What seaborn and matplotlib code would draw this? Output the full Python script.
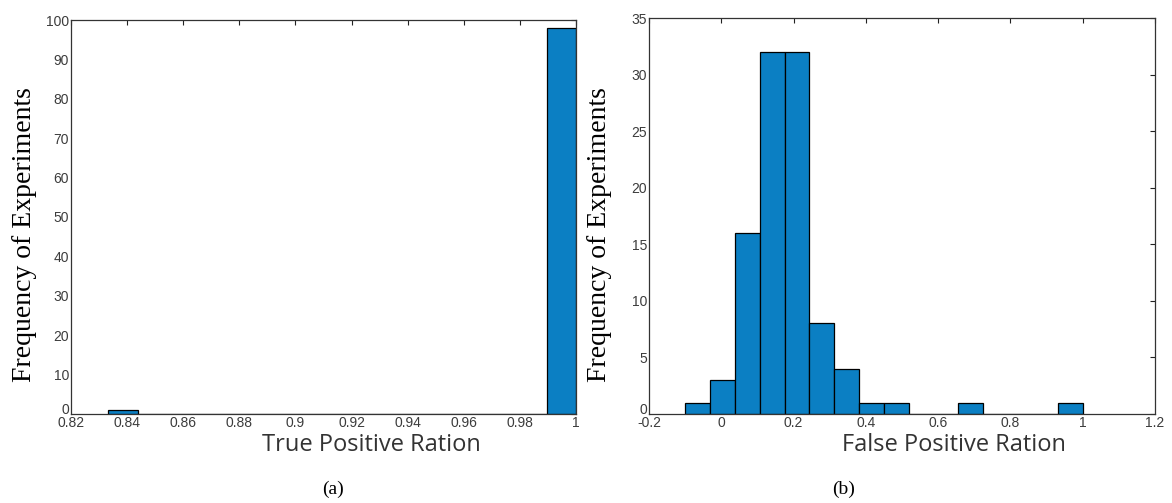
import numpy as np
import pandas as pd
import matplotlib
matplotlib.use("Agg")
import matplotlib.pyplot as plt
import matplotlib.transforms as mtransforms
import seaborn as sns

# Histogram of true positive ratios (16 equal bins between min and max)
tpr_bin_values = [0.8333, 1.0]
tpr_bin_counts = [1, 98]
tpr_range = (0.8333, 1.0)

# Histogram of false positive ratios (16 equal bins between min and max)
fpr_range = (-0.1, 1.0)
fpr_bin_counts = [1, 3, 16, 32, 32, 8, 4, 1, 1, 0, 0, 1, 0, 0, 0, 1]

n_bins = 16

tpr_xticks = [0.82, 0.84, 0.86, 0.88, 0.90, 0.92, 0.94, 0.96, 0.98, 1.0]
tpr_xlabels = ["0.82", "0.84", "0.86", "0.88", "0.9", "0.92", "0.94", "0.96", "0.98", "1"]
tpr_yticks = list(range(0, 101, 10))

fpr_xticks = [-0.2, 0.0, 0.2, 0.4, 0.6, 0.8, 1.0, 1.2]
fpr_xlabels = ["-0.2", "0", "0.2", "0.4", "0.6", "0.8", "1", "1.2"]
fpr_yticks = list(range(0, 36, 5))

sns.set_theme(style="white")
plt.rcParams["font.family"] = ["Liberation Sans", "DejaVu Sans"]

BAR = "#0B7FC3"
TICK_COLOR = "#3c3c3c"

fig = plt.figure(figsize=(11.72, 5.03), dpi=100)
ax1 = fig.add_axes([71 / 1172, 1 - 414 / 503, 505 / 1172, 394 / 503])
ax2 = fig.add_axes([649 / 1172, 1 - 414 / 503, 506 / 1172, 396 / 503])

# True positive panel: the observed values fall into the first and last bin
tpr_df = pd.DataFrame({"ratio": tpr_bin_values, "count": tpr_bin_counts})
sns.histplot(data=tpr_df, x="ratio", weights="count", bins=n_bins,
             binrange=tpr_range, color=BAR, edgecolor="black",
             linewidth=0.9, alpha=1, ax=ax1)

# False positive panel: one value per bin centre, weighted by its count
fpr_edges = np.linspace(fpr_range[0], fpr_range[1], n_bins + 1)
fpr_centres = (fpr_edges[:-1] + fpr_edges[1:]) / 2
fpr_df = pd.DataFrame({"ratio": fpr_centres, "count": fpr_bin_counts})
sns.histplot(data=fpr_df, x="ratio", weights="count", bins=n_bins,
             binrange=fpr_range, color=BAR, edgecolor="black",
             linewidth=0.9, alpha=1, ax=ax2)

panels = [
    (ax1, (0.82, 1.0), (0, 100), tpr_xticks, tpr_xlabels, tpr_yticks),
    (ax2, (-0.2, 1.2), (0, 35), fpr_xticks, fpr_xlabels, fpr_yticks),
]
for ax, xlim, ylim, xt, xl, yt in panels:
    ax.set_xlim(*xlim)
    ax.set_ylim(*ylim)
    ax.set_xticks(xt)
    ax.set_xticklabels(xl)
    ax.set_yticks(yt)
    ax.set_xlabel("")
    ax.set_ylabel("")
    ax.tick_params(direction="in", top=True, right=True, length=3.5,
                   width=0.8, color="#222222", labelsize=10,
                   labelcolor=TICK_COLOR, pad=1.5)
    for s in ax.spines.values():
        s.set_visible(True)
        s.set_color("#333333")
        s.set_linewidth(0.9)
    ax.set_facecolor("white")
    # lift the zero label of the y axis clear of the x tick labels
    zero_label = ax.get_yticklabels()[0]
    zero_label.set_transform(zero_label.get_transform() +
                             mtransforms.ScaledTranslation(0, 4 / 72, fig.dpi_scale_trans))

serif = ["Liberation Serif", "DejaVu Serif"]
label_sans = ["Open Sans", "DejaVu Sans"]

fig.text(25 / 1172, 1 - 235 / 503, "Frequency of Experiments", rotation=90,
         ha="center", va="center", fontsize=20, family=serif, color="black")
fig.text(600 / 1172, 1 - 235 / 503, "Frequency of Experiments", rotation=90,
         ha="center", va="center", fontsize=20, family=serif, color="black")

fig.text(371 / 1172, 1 - 445 / 503, "True Positive Ration", ha="center",
         va="center", fontsize=17, family=label_sans, color="#333333")
fig.text(954 / 1172, 1 - 445 / 503, "False Positive Ration", ha="center",
         va="center", fontsize=17, family=label_sans, color="#333333")

fig.text(333 / 1172, 1 - 489 / 503, "(a)", ha="center", va="center",
         fontsize=14, family=serif, color="black")
fig.text(844 / 1172, 1 - 489 / 503, "(b)", ha="center", va="center",
         fontsize=14, family=serif, color="black")

fig.savefig("out.png", dpi=100, facecolor="white")
